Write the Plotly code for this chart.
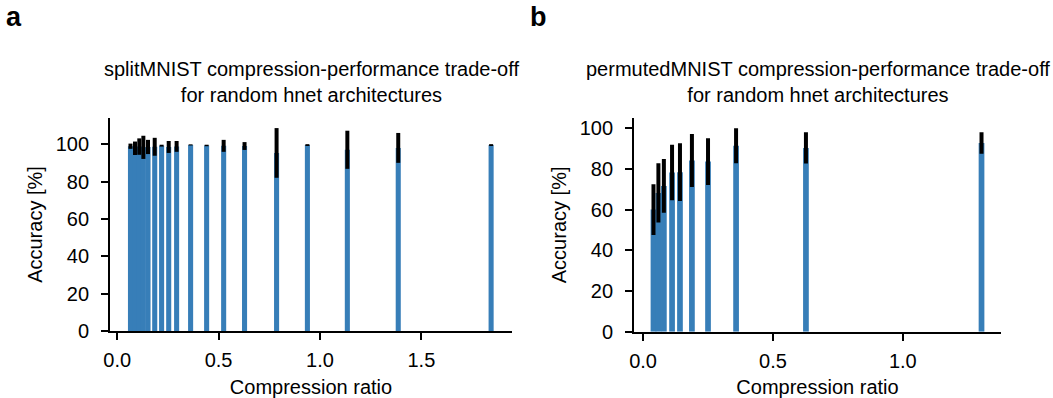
import plotly.graph_objects as go

# ---- data ----
# panel a: splitMNIST
ratio_a = [0.0655, 0.0877, 0.109, 0.129, 0.152, 0.185, 0.219, 0.254, 0.293,
           0.362, 0.441, 0.525, 0.628, 0.786, 0.938, 1.135, 1.386, 1.844]
acc_a = [98.9, 97.8, 98.7, 98.3, 98.5, 98.6, 99.2, 98.5, 98.8,
         99.6, 99.3, 99.1, 99.0, 95.3, 99.5, 97.0, 98.0, 99.5]
err_a = [1.4, 3.6, 4.4, 6.2, 3.8, 4.8, 0.5, 3.2, 2.9,
         0.3, 0.4, 3.2, 2.1, 13.3, 0.5, 10.2, 8.0, 0.5]

# panel b: permutedMNIST
ratio_b = [0.040, 0.059, 0.080, 0.1115, 0.142, 0.188, 0.250, 0.358, 0.627, 1.303]
acc_b = [60.0, 68.2, 71.6, 78.2, 78.4, 84.1, 83.6, 91.4, 90.3, 92.7]
err_b = [12.5, 14.6, 13.2, 13.6, 14.2, 13.0, 11.5, 8.6, 7.7, 5.3]

title_a = "splitMNIST compression-performance trade-off<br>for random hnet architectures"
title_b = "permutedMNIST compression-performance trade-off<br>for random hnet architectures"
xticks_a = [0.0, 0.5, 1.0, 1.5]
xticks_b = [0.0, 0.5, 1.0]
yticks = [0, 20, 40, 60, 80, 100]

BLUE = "#377eb8"
FONT = "Liberation Sans, Arial, Helvetica, sans-serif"
FS = 20
W, H = 1053, 398

def px_x(p):
    return p / W

def px_y(p):
    return (H - p) / H

fig = go.Figure()
fig.add_trace(go.Bar(
    x=ratio_a, y=acc_a, width=0.025, marker=dict(color=BLUE, line=dict(width=0)),
    error_y=dict(type="data", array=err_a, color="black", thickness=4, width=0),
    xaxis="x", yaxis="y", showlegend=False))
fig.add_trace(go.Bar(
    x=ratio_b, y=acc_b, width=0.022, marker=dict(color=BLUE, line=dict(width=0)),
    error_y=dict(type="data", array=err_b, color="black", thickness=4, width=0),
    xaxis="x2", yaxis="y2", showlegend=False))

axis_common = dict(
    showgrid=False, zeroline=False, showline=True, linecolor="black",
    ticks="outside", ticklen=7, tickwidth=1.6, tickcolor="black",
    tickfont=dict(family=FONT, size=FS, color="black"),
    automargin=False,
)
title_font = dict(family=FONT, size=FS, color="black")

fig.update_layout(
    width=W, height=H,
    margin=dict(l=0, r=0, t=0, b=0),
    paper_bgcolor="white", plot_bgcolor="white",
    barmode="overlay",
    xaxis=dict(domain=[px_x(110), px_x(512)], range=[-0.0355, 1.947],
               tickvals=xticks_a, tickformat=".1f", anchor="y", linewidth=2.4,
               ticklabelstandoff=3,
               title=dict(text="Compression ratio", font=title_font, standoff=11),
               **axis_common),
    yaxis=dict(domain=[px_y(331), px_y(118)], range=[0, 114], tickvals=yticks,
               anchor="x", linewidth=1.8, ticklabelstandoff=8,
               title=dict(text="Accuracy [%]", font=title_font, standoff=8),
               **axis_common),
    xaxis2=dict(domain=[px_x(634), px_x(1001)], range=[-0.035, 1.378],
                tickvals=xticks_b, tickformat=".1f", anchor="y2", linewidth=2.4,
                ticklabelstandoff=3,
                title=dict(text="Compression ratio", font=title_font, standoff=11),
                **axis_common),
    yaxis2=dict(domain=[px_y(331.7), px_y(118)], range=[0, 105], tickvals=yticks,
                anchor="x2", linewidth=1.8, ticklabelstandoff=8,
                title=dict(text="Accuracy [%]", font=title_font, standoff=8),
                **axis_common),
    annotations=[
        dict(text=title_a, x=px_x(311), y=px_y(108), xref="paper", yref="paper",
             xanchor="center", yanchor="bottom", showarrow=False,
             font=title_font),
        dict(text=title_b, x=px_x(817.5), y=px_y(108), xref="paper", yref="paper",
             xanchor="center", yanchor="bottom", showarrow=False,
             font=title_font),
        dict(text="<b>a</b>", x=px_x(4), y=px_y(0), xref="paper", yref="paper",
             xanchor="left", yanchor="top", showarrow=False,
             font=dict(family=FONT, size=27, color="black")),
        dict(text="<b>b</b>", x=px_x(528), y=px_y(0), xref="paper", yref="paper",
             xanchor="left", yanchor="top", showarrow=False,
             font=dict(family=FONT, size=27, color="black")),
    ],
)

fig.write_html("out.html")
